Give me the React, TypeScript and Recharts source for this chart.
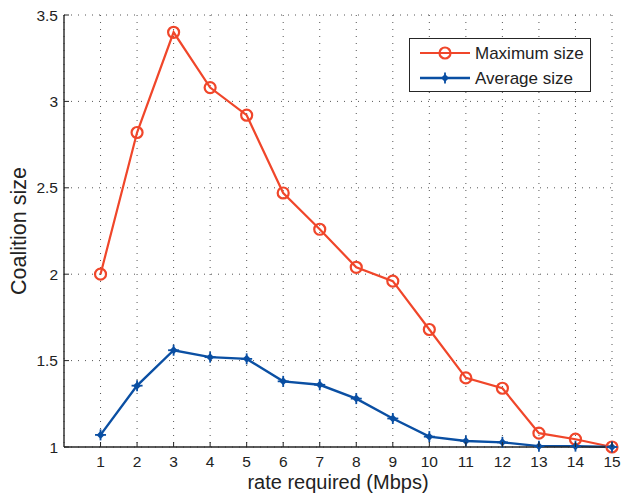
import React from "react";
import {
  LineChart,
  Line,
  XAxis,
  YAxis,
  CartesianGrid,
  Legend,
} from "recharts";

const rates = [1, 2, 3, 4, 5, 6, 7, 8, 9, 10, 11, 12, 13, 14, 15];
const maxSize = [2.0, 2.82, 3.4, 3.08, 2.92, 2.47, 2.26, 2.04, 1.96, 1.68, 1.4, 1.34, 1.08, 1.045, 1.0];
const avgSize = [1.07, 1.355, 1.56, 1.52, 1.51, 1.38, 1.36, 1.28, 1.165, 1.06, 1.035, 1.027, 1.005, 1.005, 1.0];
const yTicks = [1, 1.5, 2, 2.5, 3, 3.5];

const RED = "#f0462a";
const BLUE = "#0a4fa3";
const AXIS = "#262626";
const FONT = "'Liberation Sans', Arial, sans-serif";

const data = rates.map((r, i) => ({ rate: r, max: maxSize[i], avg: avgSize[i] }));

const TICK_LEN = 5;

function BottomTick(props: any) {
  const { x, y, payload } = props;
  const axisY = y - 8;
  return (
    <g>
      <line x1={x} y1={axisY} x2={x} y2={axisY - TICK_LEN} stroke={AXIS} strokeWidth={1} />
      <text x={x} y={axisY + 8} dy="0.78em" textAnchor="middle" fill="#222" fontSize={15.5} fontFamily={FONT}>
        {payload.value}
      </text>
    </g>
  );
}

function LeftTick(props: any) {
  const { x, y, payload } = props;
  const axisX = x + 6;
  return (
    <g>
      <line x1={axisX} y1={y} x2={axisX + TICK_LEN} y2={y} stroke={AXIS} strokeWidth={1} />
      <text x={x} y={y} dy="0.36em" textAnchor="end" fill="#222" fontSize={15.5} fontFamily={FONT}>
        {payload.value}
      </text>
    </g>
  );
}

function TopTick(props: any) {
  const { x, y } = props;
  return <line x1={x} y1={y} x2={x} y2={y + TICK_LEN} stroke={AXIS} strokeWidth={1} />;
}

function RightTick(props: any) {
  const { x, y } = props;
  return <line x1={x} y1={y} x2={x - TICK_LEN} y2={y} stroke={AXIS} strokeWidth={1} />;
}

function CircleDot(props: any) {
  const { cx, cy, index } = props;
  return <circle key={`c${index}`} cx={cx} cy={cy} r={5.5} fill="none" stroke={RED} strokeWidth={2.2} />;
}

function StarDot(props: any) {
  const { cx, cy, index } = props;
  const d = 4;
  const c = 5.5;
  return (
    <g key={`s${index}`}>
      <path d={`M${cx - d},${cy} L${cx},${cy - d} L${cx + d},${cy} L${cx},${cy + d} Z`} fill={BLUE} />
      <line x1={cx - c} y1={cy} x2={cx + c} y2={cy} stroke={BLUE} strokeWidth={1.8} />
      <line x1={cx} y1={cy - c} x2={cx} y2={cy + c} stroke={BLUE} strokeWidth={1.8} />
    </g>
  );
}

function LegendBox() {
  return (
    <svg width={182} height={54} style={{ display: "block" }}>
      <rect x={0.5} y={0.5} width={181} height={53} fill="#fff" stroke={AXIS} strokeWidth={1} />
      <line x1={11} y1={15} x2={61} y2={15} stroke={RED} strokeWidth={2.2} />
      <CircleDot cx={36} cy={15} index={0} />
      <text x={66} y={15} dy="0.36em" fontSize={17} fontFamily={FONT} fill="#222">
        Maximum size
      </text>
      <line x1={11} y1={40} x2={61} y2={40} stroke={BLUE} strokeWidth={2.4} />
      <StarDot cx={36} cy={40} index={1} />
      <text x={66} y={40} dy="0.36em" fontSize={17} fontFamily={FONT} fill="#222">
        Average size
      </text>
    </svg>
  );
}

export default function App() {
  return (
    <div style={{ position: "absolute", left: 0, top: 0, background: "#fff" }}>
      <LineChart
        width={624}
        height={494}
        data={data}
        margin={{ top: 15, right: 12, left: 0, bottom: 0 }}
      >
        <CartesianGrid stroke="#555" strokeDasharray="1 6" />
        <XAxis
          dataKey="rate"
          type="number"
          domain={[0, 15]}
          ticks={rates}
          height={47}
          tickSize={0}
          tickMargin={8}
          tick={<BottomTick />}
          axisLine={{ stroke: AXIS, strokeWidth: 1.4 }}
          label={{
            value: "rate required (Mbps)",
            position: "insideBottom",
            offset: 5,
            fontSize: 20,
            fontFamily: FONT,
            fill: "#222",
          }}
        />
        <XAxis
          xAxisId="top"
          orientation="top"
          dataKey="rate"
          type="number"
          domain={[0, 15]}
          ticks={rates}
          height={0}
          tickSize={0}
          tickMargin={0}
          tick={<TopTick />}
          axisLine={{ stroke: AXIS, strokeWidth: 1.4 }}
        />
        <YAxis
          type="number"
          domain={[1, 3.5]}
          ticks={yTicks}
          width={64}
          tickSize={0}
          tickMargin={6}
          tick={<LeftTick />}
          axisLine={{ stroke: AXIS, strokeWidth: 1.4 }}
          label={{
            value: "Coalition size",
            angle: -90,
            position: "insideLeft",
            offset: 18,
            fontSize: 21.5,
            fontFamily: FONT,
            fill: "#222",
            style: { textAnchor: "middle" },
          }}
        />
        <YAxis
          yAxisId="right"
          orientation="right"
          type="number"
          domain={[1, 3.5]}
          ticks={yTicks}
          width={0}
          tickSize={0}
          tickMargin={0}
          tick={<RightTick />}
          axisLine={{ stroke: AXIS, strokeWidth: 1.4 }}
        />
        <Legend
          layout="vertical"
          verticalAlign="middle"
          align="center"
          wrapperStyle={{ left: 409, top: 38, width: 182 }}
          content={() => <LegendBox />}
        />
        <Line
          dataKey="max"
          stroke={RED}
          strokeWidth={2.2}
          dot={<CircleDot />}
          isAnimationActive={false}
        />
        <Line
          dataKey="avg"
          stroke={BLUE}
          strokeWidth={2.4}
          dot={<StarDot />}
          isAnimationActive={false}
        />
      </LineChart>
    </div>
  );
}
